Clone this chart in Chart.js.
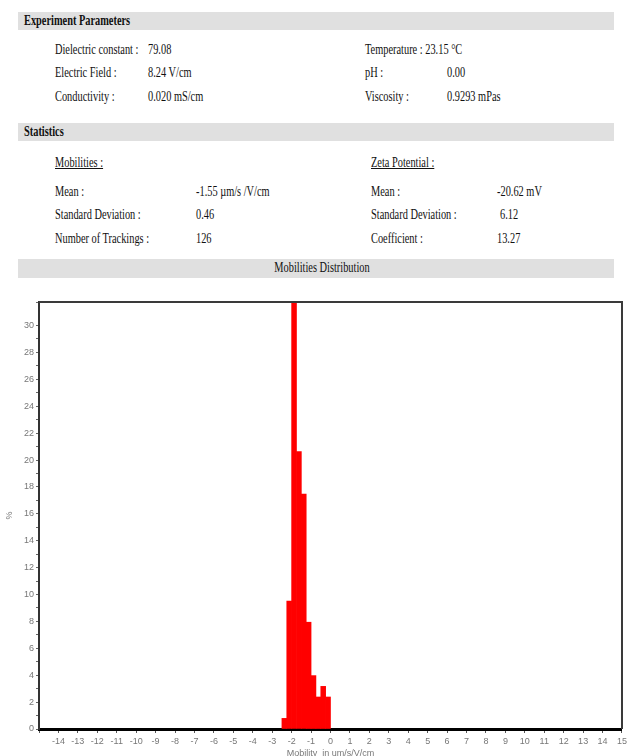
<!DOCTYPE html>
<html>
<head>
<meta charset="utf-8">
<script src="https://cdn.jsdelivr.net/npm/chart.js@4"></script>
<style>
  html, body { margin: 0; padding: 0; background: #fff; width: 630px; height: 756px; overflow: hidden; }
  .bar { position: absolute; left: 18px; width: 596px; background: #e0e0e0; }
  .t { position: absolute; font-family: "Liberation Serif", "Times New Roman", serif; font-size: 14px; color: #111;
       white-space: nowrap; transform-origin: left center; transform: translateY(-50%) scaleX(0.74); line-height: 16px; }
  .b { font-weight: bold; }
  .u { text-decoration: underline; }
  .c { transform-origin: center center; transform: translate(-50%, -50%) scaleX(0.74); }
  #wrap { position: absolute; left: 0; top: 290px; width: 630px; height: 470px; }
</style>
</head>
<body>
<div class="bar" style="top:12px;height:18px"></div>
<div class="bar" style="top:123px;height:18px"></div>
<div class="bar" style="top:259px;height:19px"></div>
<div id="text"></div>
<div id="wrap"><canvas id="chart" width="630" height="470"></canvas></div>
<script>
// Histogram bins of electrophoretic mobility (µm·cm/V·s) and share of tracked particles (%)
const binCenters = [-2.375, -2.125, -1.875, -1.625, -1.375, -1.125, -0.875, -0.625, -0.375, -0.125];
const percentages = [0.79, 9.52, 31.75, 20.63, 17.46, 7.94, 3.97, 2.38, 3.17, 2.38];
const xRange = [-15, 15];
const yMax = 31.75;

// Report header lines: [text, left, centreY, classes]
const headerLines = [
  ["Experiment Parameters", 24, 21, "b"],
  ["Dielectric constant :", 55, 50, ""], ["79.08", 148, 50, ""],
  ["Temperature : 23.15 °C", 365, 50, ""],
  ["Electric Field :", 55, 73, ""], ["8.24 V/cm", 148, 73, ""],
  ["pH :", 365, 73, ""], ["0.00", 447, 73, ""],
  ["Conductivity :", 55, 97, ""], ["0.020 mS/cm", 148, 97, ""],
  ["Viscosity :", 365, 97, ""], ["0.9293 mPas", 447, 97, ""],
  ["Statistics", 24, 132, "b"],
  ["Mobilities :", 55, 163, "u"], ["Zeta Potential :", 371, 163, "u"],
  ["Mean :", 55, 192, ""], ["-1.55 µm/s /V/cm", 196, 192, ""],
  ["Mean :", 371, 192, ""], ["-20.62 mV", 497, 192, ""],
  ["Standard Deviation :", 55, 215, ""], ["0.46", 196, 215, ""],
  ["Standard Deviation :", 371, 215, ""], ["6.12", 500, 215, ""],
  ["Number of Trackings :", 55, 239, ""], ["126", 196, 239, ""],
  ["Coefficient :", 371, 239, ""], ["13.27", 497, 239, ""]
];
const textBox = document.getElementById("text");
for (const [txt, x, y, cls] of headerLines) {
  const d = document.createElement("div");
  d.className = "t " + cls;
  d.style.left = x + "px";
  d.style.top = y + "px";
  d.textContent = txt;
  textBox.appendChild(d);
}
const title = document.createElement("div");
title.className = "t c";
title.style.left = "322px";
title.style.top = "268px";
title.textContent = "Mobilities Distribution";
textBox.appendChild(title);

// Closes the plot frame on the top and right sides
const framePlugin = {
  id: "frame",
  afterDraw(chart) {
    const { ctx, chartArea: a } = chart;
    ctx.save();
    ctx.strokeStyle = "#3a3a3a";
    ctx.lineWidth = 2;
    ctx.beginPath();
    ctx.moveTo(a.left, a.top);
    ctx.lineTo(a.right, a.top);
    ctx.lineTo(a.right, a.bottom);
    ctx.stroke();
    ctx.restore();
  }
};

const tickFont = { family: "Liberation Sans, Arial, sans-serif", size: 9 };

new Chart(document.getElementById("chart"), {
  type: "bar",
  data: {
    datasets: [{
      data: binCenters.map((x, i) => ({ x: x, y: percentages[i] })),
      backgroundColor: "#ff0000",
      borderWidth: 0,
      barPercentage: 1,
      categoryPercentage: 1
    }]
  },
  options: {
    responsive: false,
    animation: false,
    devicePixelRatio: 1,
    layout: { padding: { top: 12, right: 4, left: 0, bottom: 0 } },
    plugins: { legend: { display: false }, tooltip: { enabled: false } },
    scales: {
      x: {
        type: "linear",
        min: xRange[0],
        max: xRange[1],
        offset: false,
        afterFit: (s) => { s.height = 31; },
        grid: { display: true, drawOnChartArea: false, offset: false, tickLength: 4, tickColor: "#555", tickWidth: 1 },
        border: { display: true, color: "#000", width: 3 },
        ticks: {
          stepSize: 1, autoSkip: false, maxRotation: 0, padding: 3,
          color: "#777", font: tickFont,
          callback: (v) => (v === xRange[0] ? "" : v)
        },
        title: {
          display: true, text: "Mobility  in um/s/V/cm", color: "#777",
          font: tickFont, padding: { top: 0, bottom: 1 }
        }
      },
      y: {
        min: 0,
        max: yMax,
        afterFit: (s) => { s.width = 39; },
        grid: { display: true, drawOnChartArea: false, tickLength: 3, tickColor: "#666", tickWidth: 1 },
        border: { display: true, color: "#333", width: 2 },
        ticks: {
          stepSize: 1, autoSkip: false, padding: 2,
          color: "#777", font: tickFont,
          callback: (v) => (Number.isInteger(v) && v % 2 === 0 ? v : "")
        },
        title: {
          display: true, text: "%", color: "#777",
          font: tickFont, padding: { top: 4, bottom: 0 }
        }
      }
    }
  },
  plugins: [framePlugin]
});
</script>
</body>
</html>
